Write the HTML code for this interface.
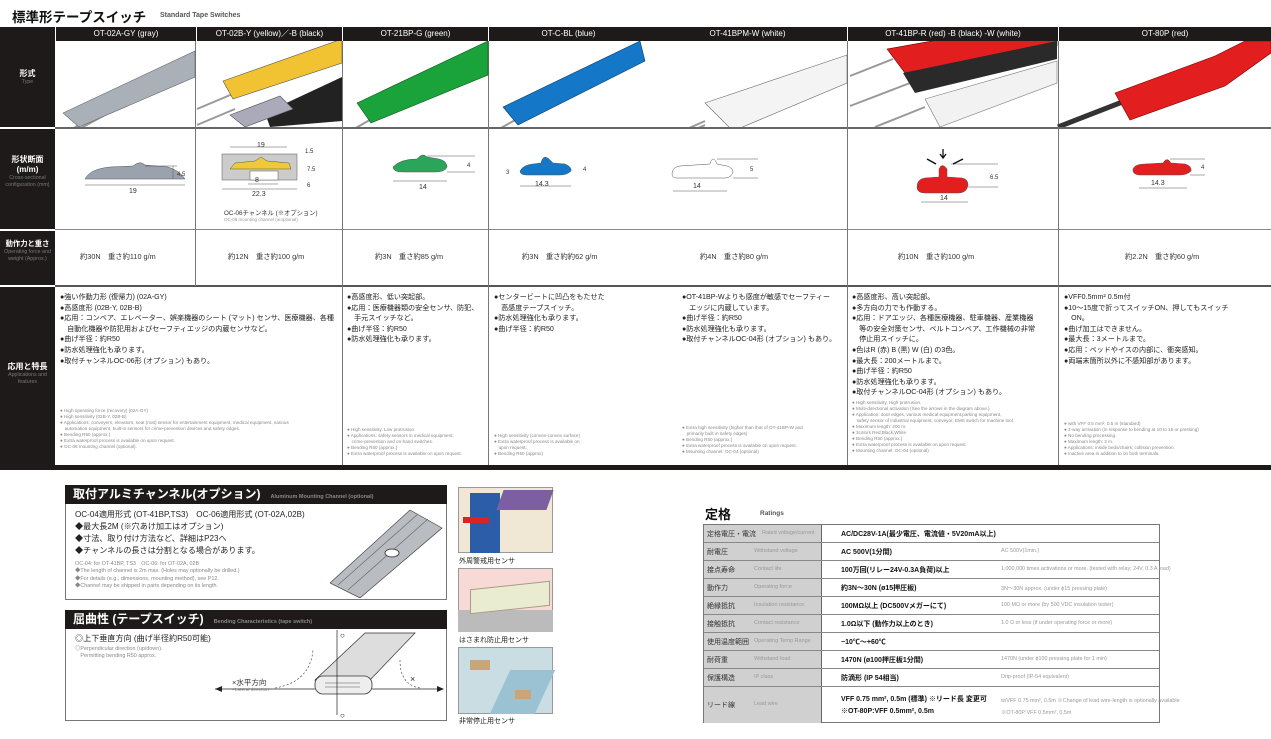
<!DOCTYPE html>
<html><head><meta charset="utf-8">
<style>
*{margin:0;padding:0;box-sizing:border-box}
body{width:1271px;height:739px;background:#fff;position:relative;overflow:hidden;font-family:"Liberation Sans","Noto Sans CJK JP",sans-serif;color:#222}
.a{position:absolute}
.hd{position:absolute;top:27px;height:14px;background:#1e1a1a;color:#fff;font-size:8px;text-align:center;line-height:14px;font-family:"Liberation Sans Narrow","Liberation Sans","Noto Sans CJK JP",sans-serif;border-left:1px solid #fff}
.lab{position:absolute;left:0;width:55px;color:#fff;text-align:center;font-weight:bold;font-size:8px;line-height:10px}
.lab small{display:block;font-weight:normal;color:#777;font-size:5.3px;line-height:6.5px}
.hl{position:absolute;height:1px;background:#888;left:55px;width:1216px}
.vl{position:absolute;width:1px;background:#777}
.jp{position:absolute;font-size:7.1px;line-height:10.6px;color:#222;white-space:nowrap}
.en{position:absolute;font-size:4.6px;line-height:6px;color:#888;white-space:nowrap}
.wt{position:absolute;top:252px;font-size:7.3px;color:#333}
.rt{position:absolute;left:703px;width:457px;border:1px solid #777}
.rr{position:absolute;left:0;width:455px;border-bottom:1px solid #888;font-size:7px;white-space:nowrap}
.rr .g{position:absolute;left:0;top:0;bottom:0;width:118px;background:#d0d0d0;border-right:1px solid #666}
.rr .j{position:absolute;left:3px;color:#333;font-size:7px}
.rr .e{position:absolute;left:50px;color:#999;font-size:5.5px}
.rr .v{position:absolute;left:137px;font-weight:bold;font-size:7px;color:#111}
.rr .w{position:absolute;left:297px;color:#999;font-size:5.4px}
</style></head><body>
<div class="a" style="left:12px;top:6px;font-size:13.5px;font-weight:bold;color:#111">標準形テープスイッチ</div>
<div class="a" style="left:160px;top:12px;font-size:7px;font-weight:bold;color:#555">Standard Tape Switches</div>

<div class="a" style="left:0;top:27px;width:55px;height:443px;background:#1e1a1a"></div>
<div class="a" style="left:0;top:127px;width:55px;height:2px;background:#fff"></div>
<div class="a" style="left:0;top:229px;width:55px;height:2px;background:#fff"></div>
<div class="a" style="left:0;top:285px;width:55px;height:2px;background:#fff"></div>
<div class="lab" style="top:69px">形式<small>Type</small></div>
<div class="lab" style="top:155px">形状断面<br>(m/m)<small>Cross-sectional configuration (mm)</small></div>
<div class="lab" style="top:239px;font-size:7.3px">動作力と重さ<small>Operating force and weight (Approx.)</small></div>
<div class="lab" style="top:362px">応用と特長<small>Applications and features</small></div>

<div class="hd" style="left:55px;width:141px">OT-02A-GY (gray)</div>
<div class="hd" style="left:196px;width:146px">OT-02B-Y (yellow)／-B (black)</div>
<div class="hd" style="left:342px;width:146px">OT-21BP-G (green)</div>
<div class="hd" style="left:488px;width:160px">OT-C-BL (blue)</div>
<div class="hd" style="left:648px;width:199px;border-left:none">OT-41BPM-W (white)</div>
<div class="hd" style="left:847px;width:211px">OT-41BP-R (red) -B (black) -W (white)</div>
<div class="hd" style="left:1058px;width:213px">OT-80P (red)</div>

<div class="hl" style="top:127px;height:2px;background:#666"></div>
<div class="hl" style="top:229px"></div>
<div class="hl" style="top:285px;height:2px;background:#555"></div>
<div class="vl" style="left:195px;top:41px;height:245px"></div>
<div class="vl" style="left:342px;top:41px;height:425px"></div>
<div class="vl" style="left:488px;top:41px;height:425px"></div>
<div class="vl" style="left:847px;top:41px;height:425px"></div>
<div class="vl" style="left:1058px;top:41px;height:425px"></div>
<div class="a" style="left:0;top:465px;width:1271px;height:5px;background:#1e1a1a"></div>

<svg class="a" style="left:55px;top:41px" width="1216" height="86">
 <g stroke="#999" stroke-width="2">
 <line x1="2" y1="96" x2="50" y2="70"/><line x1="2" y1="100" x2="50" y2="74"/>
 </g>
 <polygon points="8,72 140,10 140,36 24,86" fill="#a9b0b8" stroke="#666" stroke-width=".6"/>
 <line x1="142" y1="68" x2="180" y2="52" stroke="#999" stroke-width="2"/>
 <polygon points="168,40 287,-2 287,22 178,58" fill="#f1c232" stroke="#555" stroke-width=".6"/>
 <polygon points="210,72 287,36 287,80 215,86" fill="#222"/>
 <polygon points="175,74 225,55 238,68 190,86" fill="#aab" stroke="#555" stroke-width=".6"/>
 <line x1="142" y1="84" x2="180" y2="68" stroke="#999" stroke-width="2"/>
 <line x1="292" y1="92" x2="320" y2="76" stroke="#999" stroke-width="2"/>
 <polygon points="302,62 433,0 433,34 316,82" fill="#1aa33a" stroke="#0b5a1e" stroke-width=".6"/>
 <line x1="437" y1="92" x2="462" y2="78" stroke="#999" stroke-width="2"/>
 <polygon points="448,66 585,0 590,20 463,84" fill="#1477c7" stroke="#0a3c6a" stroke-width=".6"/>
 <line x1="612" y1="101" x2="650" y2="84" stroke="#999" stroke-width="2"/><line x1="612" y1="97" x2="650" y2="80" stroke="#999" stroke-width="2"/>
 <polygon points="650,62 792,14 792,42 678,90" fill="#f4f4f4" stroke="#666" stroke-width=".6"/>
 <line x1="795" y1="35" x2="838" y2="18" stroke="#999" stroke-width="2"/>
 <line x1="795" y1="65" x2="855" y2="42" stroke="#999" stroke-width="2"/>
 <line x1="820" y1="86" x2="870" y2="66" stroke="#999" stroke-width="2"/>
 <polygon points="832,8 905,-5 1002,-5 1002,5 850,32" fill="#e31e1e" stroke="#600" stroke-width=".6"/>
 <polygon points="848,32 1002,0 1002,18 860,52" fill="#2a2a2a"/>
 <polygon points="870,58 1002,20 1002,42 885,86" fill="#f2f2f2" stroke="#777" stroke-width=".6"/>
 <line x1="1003" y1="86" x2="1075" y2="58" stroke="#333" stroke-width="5"/>
 <polygon points="1060,52 1160,15 1190,0 1216,0 1216,12 1170,45 1075,79" fill="#e31e1e" stroke="#700" stroke-width=".6"/>
</svg>

<svg class="a" style="left:55px;top:129px" width="1216" height="100" font-family="Liberation Sans" font-size="7" fill="#333">
 <g stroke="#555" stroke-width=".5" fill="none">
 <path d="M30,50 Q35,40 55,38 L78,37 Q85,31 90,36 L113,38 Q125,42 130,50 Z" fill="#9aa3ad"/>
 <line x1="30" y1="56" x2="130" y2="56"/><line x1="90" y1="37" x2="122" y2="37"/><line x1="118" y1="37" x2="118" y2="50"/>
 </g>
 <text x="74" y="64">19</text><text x="122" y="47" font-size="6">4.5</text>
 <g stroke="#555" stroke-width=".5">
 <rect x="167" y="25" width="75" height="26" fill="#ccc"/>
 <path d="M175,40 L180,34 L200,32 L206,28 L212,32 L234,34 L236,40 Z" fill="#f0c93a"/>
 <rect x="195" y="42" width="28" height="9" fill="#fff"/>
 <line x1="175" y1="18" x2="232" y2="18"/><line x1="167" y1="60" x2="242" y2="60"/><line x1="193" y1="55" x2="223" y2="55"/>
 </g>
 <text x="202" y="18">19</text><text x="200" y="53">8</text><text x="197" y="67">22.3</text>
 <text x="250" y="24" font-size="6">1.5</text><text x="252" y="42" font-size="6">7.5</text><text x="252" y="58" font-size="6">6</text>
 <text x="169" y="86" font-size="6.3">OC-06チャンネル (※オプション)</text>
 <text x="169" y="92" font-size="4.5" fill="#999">OC-06 mounting channel (※optional)</text>
 <g stroke="#555" stroke-width=".5">
 <path d="M338,38 Q345,30 362,30 L364,28 Q368,24 372,28 L384,30 Q392,32 392,38 Q390,43 380,43 L348,43 Q338,43 338,38Z" fill="#2aa55a"/>
 <line x1="338" y1="52" x2="392" y2="52"/><line x1="372" y1="27" x2="420" y2="27"/><line x1="392" y1="43" x2="420" y2="43"/>
 </g>
 <text x="364" y="60">14</text><text x="412" y="38" font-size="6">4</text>
 <g stroke="#555" stroke-width=".5">
 <path d="M465,42 Q468,36 478,35 L486,34 Q488,25 494,30 L498,34 L510,35 Q517,38 516,42 Q512,46 505,46 L472,46 Q465,46 465,42Z" fill="#1477c7"/>
 <line x1="465" y1="57" x2="516" y2="57"/>
 </g>
 <text x="480" y="57">14.3</text><text x="451" y="45" font-size="6">3</text><text x="528" y="42" font-size="6">4</text>
 <g stroke="#555" stroke-width=".5">
 <path d="M617,45 Q617,38 625,37 L655,35 Q658,25 662,35 L672,37 Q678,39 678,43 Q676,49 670,49 L622,49 Q617,49 617,45Z" fill="#fff"/>
 <line x1="618" y1="62" x2="672" y2="62"/><line x1="662" y1="30" x2="703" y2="30"/><line x1="678" y1="49" x2="703" y2="49"/>
 </g>
 <text x="638" y="59">14</text><text x="695" y="42" font-size="6">5</text>
 <g stroke="#555" stroke-width=".5">
 <path d="M862,58 Q862,50 870,49 L884,48 L884,40 Q887,33 892,40 L892,48 L907,49 Q913,50 913,56 Q912,64 903,64 L870,64 Q862,64 862,58Z" fill="#e31e1e"/>
 <line x1="866" y1="73" x2="913" y2="73"/><line x1="896" y1="35" x2="943" y2="35"/><line x1="913" y1="58" x2="943" y2="58"/>
 </g>
 <path d="M888,20 L888,28 M885,25 L888,29 L891,25" stroke="#111" fill="none" stroke-width="1.3"/>
 <path d="M872,30 L881,35 M908,30 L898,35" stroke="#111" stroke-width="1.5"/>
 <text x="885" y="71">14</text><text x="935" y="50" font-size="6">6.5</text>
 <g stroke="#555" stroke-width=".5">
 <path d="M1078,40 Q1080,35 1090,35 L1108,34 Q1112,27 1116,34 L1130,35 Q1137,37 1136,42 Q1132,46 1125,46 L1084,46 Q1077,45 1078,40Z" fill="#e31e1e"/>
 <line x1="1084" y1="59" x2="1132" y2="59"/><line x1="1115" y1="30" x2="1150" y2="30"/><line x1="1135" y1="46" x2="1150" y2="46"/>
 </g>
 <text x="1096" y="56">14.3</text><text x="1146" y="40" font-size="6">4</text>
</svg>

<div class="wt" style="left:80px">約30N　重さ約110 g/m</div>
<div class="wt" style="left:228px">約12N　重さ約100 g/m</div>
<div class="wt" style="left:375px">約3N　重さ約85 g/m</div>
<div class="wt" style="left:522px">約3N　重さ約約62 g/m</div>
<div class="wt" style="left:700px">約4N　重さ約80 g/m</div>
<div class="wt" style="left:898px">約10N　重さ約100 g/m</div>
<div class="wt" style="left:1125px">約2.2N　重さ約60 g/m</div>

<div class="jp" style="left:60px;top:292px">●強い作動力形 (復帰力) (02A-GY)<br>●高感度形 (02B-Y, 02B-B)<br>●応用：コンベア、エレベーター、娯楽機器のシート (マット) センサ、医療機器、各種<br>　自動化機器や防犯用およびセーフティエッジの内蔵センサなど。<br>●曲げ半径：約R50<br>●防水処理強化も承ります。<br>●取付チャンネルOC-06形 (オプション) もあり。</div>
<div class="en" style="left:60px;top:408px">● High operating force (recovery) (02A-GY)<br>● High sensitivity (02B-Y, 02B-B)<br>● Applications: conveyers, elevators, seat (mat) sensor for entertainment equipment, medical equipment, various<br>　automation equipment, built-in sensors for crime-prevention devices and safety edges.<br>● Bending R50 (approx.)<br>● Extra waterproof process is available on upon request.<br>● OC-06 mounting channel (optional).</div>
<div class="jp" style="left:347px;top:292px">●高感度形、低い突起部。<br>●応用：医療機器類の安全センサ、防犯、<br>　手元スイッチなど。<br>●曲げ半径：約R50<br>●防水処理強化も承ります。</div>
<div class="en" style="left:347px;top:427px">● High sensitivity, Low protrusion.<br>● Applications: safety sensors in medical equipment,<br>　crime-prevention and on-hand switches.<br>● Bending R50 (approx.)<br>● Extra waterproof process is available on upon request.</div>
<div class="jp" style="left:494px;top:292px">●センタービートに凹凸をもたせた<br>　高感度テープスイッチ。<br>●防水処理強化も承ります。<br>●曲げ半径：約R50</div>
<div class="en" style="left:494px;top:433px">● High sensitivity (convex-convex surface)<br>● Extra waterproof process is available on<br>　upon request.<br>● Bending R50 (approx)</div>
<div class="jp" style="left:682px;top:292px">●OT-41BP-Wよりも感度が敏感でセーフティー<br>　エッジに内蔵しています。<br>●曲げ半径：約R50<br>●防水処理強化も承ります。<br>●取付チャンネルOC-04形 (オプション) もあり。</div>
<div class="en" style="left:682px;top:425px">● Extra high sensitivity (higher than that of OT-41BP-W and<br>　primarily built in safety edges)<br>● Bending R50 (approx.)<br>● Extra waterproof process is available on upon request.<br>● Mounting channel: OC-04 (optional)</div>
<div class="jp" style="left:852px;top:292px">●高感度形、高い突起部。<br>●多方向の力でも作動する。<br>●応用：ドアエッジ、各種医療機器、駐車機器、産業機器<br>　等の安全対策センサ、ベルトコンベア、工作機械の非常<br>　停止用スイッチに。<br>●色はR (赤) B (黒) W (白) の3色。<br>●最大長：200メートルまで。<br>●曲げ半径：約R50<br>●防水処理強化も承ります。<br>●取付チャンネルOC-04形 (オプション) もあり。</div>
<div class="en" style="left:852px;top:400px">● High sensitivity, High protrusion.<br>● Multi-directional activation (See the arrows in the diagram above.)<br>● Application: door edges, various medical equipment,parking equipment,<br>　safety sensor of industrial equipment, conveyor, EMS switch for machine tool.<br>● Maximum length: 200 m.<br>● 3colors Red,Black,White<br>● Bending R50 (approx.)<br>● Extra waterproof process is available on upon request.<br>● Mounting channel: OC-04 (optional)</div>
<div class="jp" style="left:1064px;top:292px">●VFF0.5mm² 0.5m付<br>●10～15度で折ってスイッチON、押してもスイッチ<br>　ON。<br>●曲げ加工はできません。<br>●最大長：3メートルまで。<br>●応用：ベッドやイスの内部に、衝突感知。<br>●両端末箇所以外に不感知部があります。</div>
<div class="en" style="left:1064px;top:421px">● with VFF 0.5 mm², 0.5 m (standard)<br>● 2-way activation (in response to bending at 10 to 15 or pressing)<br>● No bending processing.<br>● Maximum length: 3 m.<br>● Applications: inside beds/chairs; collision prevention.<br>● Inactive area in addition to on both terminals.</div>

<div class="a" style="left:65px;top:485px;width:382px;height:115px;border:1px solid #777"></div>
<div class="a" style="left:65px;top:485px;width:382px;height:19px;background:#1e1a1a;color:#fff;font-weight:bold;font-size:12px;line-height:19px;padding-left:8px">取付アルミチャンネル(オプション)<span style="font-size:5.5px;color:#888;margin-left:10px">Aluminum Mounting Channel (optional)</span></div>
<div class="a" style="left:75px;top:509px;font-size:8.1px;line-height:12px;color:#222">OC-04適用形式 (OT-41BP,TS3)　OC-06適用形式 (OT-02A,02B)<br>◆最大長2M (※穴あけ加工はオプション)<br>◆寸法、取り付け方法など、詳細はP23へ<br>◆チャンネルの長さは分割となる場合があります。</div>
<div class="a" style="left:75px;top:561px;font-size:5.4px;line-height:7.3px;color:#888">OC-04: for OT-41BP, TS3　OC-06: for OT-02A, 02B<br>◆The length of channel is 2m max. (Holes may optionally be drilled.)<br>◆For details (e.g., dimensions, mounting method), see P12.<br>◆Channel may be shipped in parts depending on its length.</div>
<svg class="a" style="left:330px;top:508px" width="115" height="90">
 <polygon points="0,75 80,2 112,20 30,90" fill="#b9bcc0" stroke="#444" stroke-width=".7"/>
 <line x1="8" y1="77" x2="88" y2="6" stroke="#666" stroke-width=".6"/><line x1="18" y1="82" x2="98" y2="11" stroke="#666" stroke-width=".6"/>
 <ellipse cx="62" cy="45" rx="7" ry="4" fill="#fff" stroke="#444"/>
</svg>

<div class="a" style="left:65px;top:610px;width:382px;height:111px;border:1px solid #777"></div>
<div class="a" style="left:65px;top:610px;width:382px;height:19px;background:#1e1a1a;color:#fff;font-weight:bold;font-size:12px;line-height:19px;padding-left:8px">屈曲性 (テープスイッチ)<span style="font-size:5.5px;color:#888;margin-left:10px">Bending Characteristics (tape switch)</span></div>
<div class="a" style="left:75px;top:633px;font-size:8.1px;color:#222">◎上下垂直方向 (曲げ半径約R50可能)</div>
<div class="a" style="left:75px;top:646px;font-size:5.4px;line-height:7px;color:#888">◎Perpendicular direction (up/down).<br>　Permitting bending R50 approx.</div>
<div class="a" style="left:232px;top:677px;font-size:7.5px;color:#333">×水平方向</div>
<div class="a" style="left:232px;top:688px;font-size:4.8px;color:#999">×Lateral direction</div>
<svg class="a" style="left:215px;top:630px" width="230" height="90">
 <polygon points="100,50 150,3 200,3 155,50" fill="#ddd" stroke="#333" stroke-width=".7"/>
 <rect x="100" y="46" width="57" height="18" rx="8" fill="#eee" stroke="#333" stroke-width=".8"/>
 <path d="M110,53 L145,53 M110,57 L145,57" stroke="#555" stroke-width=".6"/>
 <line x1="122" y1="85" x2="122" y2="0" stroke="#222" stroke-width=".7"/>
 <text x="125" y="8" font-size="8">○</text><text x="125" y="88" font-size="8">○</text>
 <line x1="0" y1="59" x2="100" y2="59" stroke="#222" stroke-width=".7"/>
 <polygon points="0,59 7,56 7,62" fill="#222"/>
 <line x1="157" y1="59" x2="228" y2="59" stroke="#222" stroke-width=".7"/>
 <polygon points="229,59 222,56 222,62" fill="#222"/>
 <text x="195" y="52" font-size="9" fill="#333">×</text>
 <path d="M185,30 Q185,55 205,58" stroke="#333" stroke-dasharray="2,2" fill="none" stroke-width=".6"/>
 <path d="M60,58 Q95,52 98,20" stroke="#333" stroke-dasharray="2,2" fill="none" stroke-width=".6"/>
</svg>

<div class="a" style="left:458px;top:487px;width:95px;height:66px;background:#f0e7d4;border:1px solid #999;overflow:hidden"></div>
<div class="a" style="left:470px;top:493px;width:30px;height:60px;background:#2c5da8"></div>
<div class="a" style="left:500px;top:490px;width:50px;height:20px;background:#7b5fa0;transform:skewX(-20deg)"></div>
<div class="a" style="left:463px;top:517px;width:26px;height:6px;background:#d22"></div>
<div class="a" style="left:459px;top:556px;font-size:7px;color:#222">外周警戒用センサ</div>
<div class="a" style="left:458px;top:568px;width:95px;height:64px;background:#f7d9d5;border:1px solid #999"></div>
<div class="a" style="left:458px;top:610px;width:95px;height:22px;background:#bbb"></div>
<div class="a" style="left:470px;top:585px;width:80px;height:25px;background:#e9ecd0;border:1px solid #a98;transform:skewY(-6deg)"></div>
<div class="a" style="left:459px;top:635px;font-size:7px;color:#222">はさまれ防止用センサ</div>
<div class="a" style="left:458px;top:647px;width:95px;height:67px;background:#c9dde3;border:1px solid #999"></div>
<div class="a" style="left:500px;top:670px;width:45px;height:44px;background:#9bc2d3;transform:skewX(-25deg)"></div>
<div class="a" style="left:470px;top:660px;width:20px;height:10px;background:#c8a57a"></div>
<div class="a" style="left:515px;top:690px;width:16px;height:9px;background:#c8a57a"></div>
<div class="a" style="left:459px;top:716px;font-size:7px;color:#222">非常停止用センサ</div>

<div class="a" style="left:705px;top:504px;font-size:13px;font-weight:bold;color:#111">定格</div>
<div class="a" style="left:760px;top:510px;font-size:6.5px;font-weight:bold;color:#555">Ratings</div>
<div class="rt" style="top:524px;height:199px">
 <div class="rr" style="top:0;height:18px"><div class="g"></div><span class="j" style="top:4px">定格電圧・電流</span><span class="e" style="top:5px;left:58px">Rated voltage/current</span><span class="v" style="top:4px">AC/DC28V-1A(最少電圧、電流値・5V20mA以上)</span></div>
 <div class="rr" style="top:18px;height:18px"><div class="g"></div><span class="j" style="top:4px">耐電圧</span><span class="e" style="top:5px">Withstand voltage</span><span class="v" style="top:4px">AC 500V(1分間)</span><span class="w" style="top:5px">AC 500V(1min.)</span></div>
 <div class="rr" style="top:36px;height:18px"><div class="g"></div><span class="j" style="top:4px">接点寿命</span><span class="e" style="top:5px">Contact life</span><span class="v" style="top:4px">100万回(リレー24V-0.3A負荷)以上</span><span class="w" style="top:5px">1,000,000 times activations or more. (tested with relay; 24V, 0.3 A load)</span></div>
 <div class="rr" style="top:54px;height:18px"><div class="g"></div><span class="j" style="top:4px">動作力</span><span class="e" style="top:5px">Operating force</span><span class="v" style="top:4px">約3N～30N (ø15押圧板)</span><span class="w" style="top:5px">3N～30N approx. (under ϕ15 pressing plate)</span></div>
 <div class="rr" style="top:72px;height:18px"><div class="g"></div><span class="j" style="top:4px">絶縁抵抗</span><span class="e" style="top:5px">Insulation resistance</span><span class="v" style="top:4px">100MΩ以上 (DC500Vメガーにて)</span><span class="w" style="top:5px">100 MΩ or more (by 500 VDC insulation tester)</span></div>
 <div class="rr" style="top:90px;height:18px"><div class="g"></div><span class="j" style="top:4px">接触抵抗</span><span class="e" style="top:5px">Contact resistance</span><span class="v" style="top:4px">1.0Ω以下 (動作力以上のとき)</span><span class="w" style="top:5px">1.0 Ω or less (if under operating force or more)</span></div>
 <div class="rr" style="top:108px;height:18px"><div class="g"></div><span class="j" style="top:4px">使用温度範囲</span><span class="e" style="top:5px;left:50px">Operating Temp Range</span><span class="v" style="top:4px">−10℃～+60℃</span></div>
 <div class="rr" style="top:126px;height:18px"><div class="g"></div><span class="j" style="top:4px">耐荷重</span><span class="e" style="top:5px">Withstand load</span><span class="v" style="top:4px">1470N (ø100押圧板1分間)</span><span class="w" style="top:5px">1470N (under ϕ100 pressing plate for 1 min)</span></div>
 <div class="rr" style="top:144px;height:18px"><div class="g"></div><span class="j" style="top:4px">保護構造</span><span class="e" style="top:5px">IP class</span><span class="v" style="top:4px">防滴形 (IP 54相当)</span><span class="w" style="top:5px">Drip-proof (IP-54 equivalent)</span></div>
 <div class="rr" style="top:162px;height:36px;border-bottom:none"><div class="g"></div><span class="j" style="top:13px">リード線</span><span class="e" style="top:14px">Lead wire</span><span class="v" style="top:7px;line-height:12px">VFF 0.75 mm², 0.5m (標準) ※リード長 変更可<br>※OT-80P:VFF 0.5mm², 0.5m</span><span class="w" style="top:8px;line-height:12px">w/VFF 0.75 mm², 0.5m ※Change of lead wire-length is optionally available<br>※OT-80P:VFF 0.5mm², 0.5m</span></div>
</div>
</body></html>
